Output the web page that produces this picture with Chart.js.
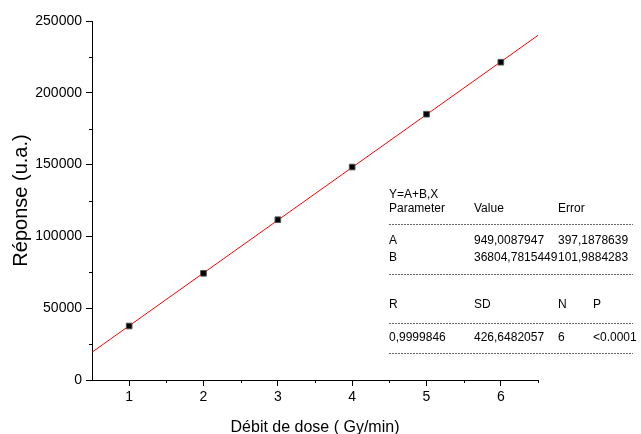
<!DOCTYPE html>
<html>
<head>
<meta charset="utf-8">
<script src="https://cdn.jsdelivr.net/npm/chart.js@4/dist/chart.umd.min.js"></script>
<style>
  html, body { margin: 0; padding: 0; background: #fff; }
  #wrap { width: 641px; height: 434px; }
</style>
</head>
<body>
<div id="wrap"><canvas id="c" width="641" height="434"></canvas></div>
<script>
// dose rate (Gy/min) and measured response (u.a.)
const doseRates = [1, 2, 3, 4, 5, 6];
const responses = [37600, 74300, 111600, 148300, 185100, 221300];

// fitted line, at both ends of the x axis
const fitX = [0.5, 6.5];
const fitY = [19350, 240000];

const xTicks = [1, 2, 3, 4, 5, 6];

// fit result box
const fitTitle = 'Y=A+B,X';
const paramHeader = ['Parameter', 'Value', 'Error'];
const paramRows = [
  ['A', '949,0087947', '397,1878639'],
  ['B', '36804,7815449', '101,9884283']
];
const statHeader = ['R', 'SD', 'N', 'P'];
const statRow = ['0,9999846', '426,6482057', '6', '<0.0001'];

const FONT = 'Arial, "Liberation Sans", Helvetica, sans-serif';

const minorTicks = {
  id: 'minorTicks',
  afterDraw(chart) {
    const ctx = chart.ctx;
    const xs = chart.scales.x, ys = chart.scales.y;
    const area = chart.chartArea;
    ctx.save();
    ctx.strokeStyle = '#000';
    ctx.lineWidth = 1;
    ctx.beginPath();
    for (let v = 25000; v < 250000; v += 50000) {
      const py = Math.round(ys.getPixelForValue(v)) + 0.5;
      ctx.moveTo(area.left - 3, py);
      ctx.lineTo(area.left, py);
    }
    for (let v = 1.5; v <= 6.5; v += 1) {
      const px = Math.round(xs.getPixelForValue(v)) + 0.5;
      ctx.moveTo(px, area.bottom);
      ctx.lineTo(px, area.bottom + 3);
    }
    ctx.stroke();
    ctx.restore();
  }
};

const fitTable = {
  id: 'fitTable',
  afterDraw(chart) {
    const ctx = chart.ctx;
    const x0 = 389;
    const cols = [389, 474, 558, 593];
    ctx.save();
    ctx.fillStyle = '#000';
    ctx.font = '12px ' + FONT;
    ctx.textBaseline = 'middle';
    ctx.textAlign = 'left';
    ctx.fillText(fitTitle, x0, 195);
    paramHeader.forEach((t, i) => ctx.fillText(t, cols[i], 209));
    paramRows.forEach((row, r) => {
      row.forEach((t, i) => ctx.fillText(t, cols[i], 241 + r * 17));
    });
    statHeader.forEach((t, i) => ctx.fillText(t, cols[i], 305));
    statRow.forEach((t, i) => ctx.fillText(t, cols[i], 338));

    ctx.strokeStyle = '#666';
    ctx.lineWidth = 1;
    ctx.setLineDash([2, 1]);
    [224, 274, 323, 353].forEach(y => {
      ctx.beginPath();
      ctx.moveTo(x0, y + 0.5);
      ctx.lineTo(633, y + 0.5);
      ctx.stroke();
    });
    ctx.restore();
  }
};

new Chart(document.getElementById('c'), {
  type: 'scatter',
  data: {
    datasets: [
      {
        label: 'fit',
        data: fitX.map((x, i) => ({ x: x, y: fitY[i] })),
        showLine: true,
        borderColor: '#ff0000',
        borderWidth: 1,
        pointRadius: 0,
        order: 2
      },
      {
        label: 'Réponse',
        data: doseRates.map((x, i) => ({ x: x, y: responses[i] })),
        pointStyle: 'rect',
        pointRadius: 4,
        backgroundColor: '#000',
        borderColor: '#555',
        borderWidth: 1,
        order: 1
      }
    ]
  },
  options: {
    responsive: false,
    animation: false,
    layout: { padding: { top: 21, right: 103, bottom: 0, left: 0 } },
    plugins: {
      legend: { display: false },
      tooltip: { enabled: false }
    },
    scales: {
      x: {
        type: 'linear',
        min: 0.5,
        max: 6.5,
        afterBuildTicks: s => { s.ticks = xTicks.map(v => ({ value: v })); },
        afterFit: s => { s.height = 54; },
        grid: { display: true, drawOnChartArea: false, tickLength: 6, color: '#000' },
        border: { display: true, color: '#000', width: 1 },
        ticks: { color: '#000', font: { family: FONT, size: 14 }, padding: 3, maxRotation: 0 },
        title: {
          display: true,
          text: 'Débit de dose ( Gy/min)',
          color: '#000',
          font: { family: FONT, size: 16, lineHeight: 0.75 },
          padding: { top: 0, bottom: 0 }
        }
      },
      y: {
        type: 'linear',
        min: 0,
        max: 250000,
        ticks: {
          stepSize: 50000,
          color: '#000',
          font: { family: FONT, size: 14 },
          padding: 4,
          callback: v => String(v)
        },
        afterFit: s => { s.width = 92; },
        grid: { display: true, drawOnChartArea: false, tickLength: 6, color: '#000' },
        border: { display: true, color: '#000', width: 1 },
        title: {
          display: true,
          text: 'Réponse (u.a.)',
          color: '#000',
          font: { family: FONT, size: 20 },
          padding: { top: 9, bottom: 0 }
        }
      }
    }
  },
  plugins: [minorTicks, fitTable]
});
</script>
</body>
</html>
